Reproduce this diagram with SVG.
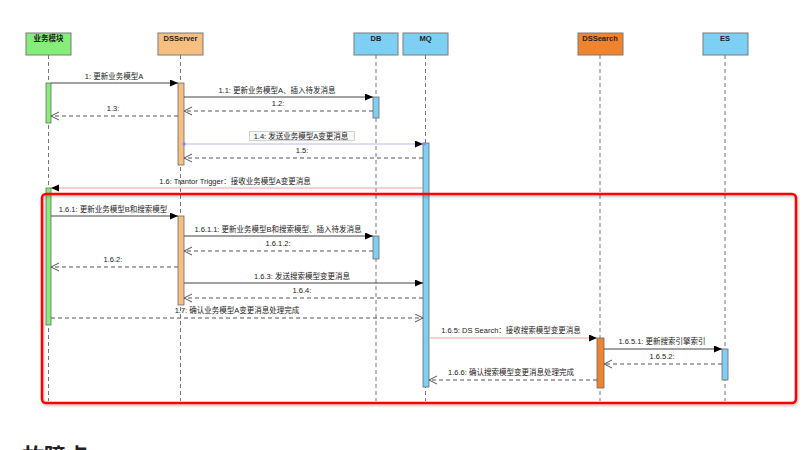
<svg xmlns="http://www.w3.org/2000/svg" width="811" height="450" viewBox="0 0 811 450">
<style>
.hd{stroke:#7a7a7a;stroke-width:1}
.ht{font-family:"Liberation Sans","Noto Sans CJK SC",sans-serif;font-size:7.5px;font-weight:bold;fill:#222;text-anchor:middle}
.ll{stroke:#777;stroke-width:1;stroke-dasharray:4,3;fill:none}
.act{stroke:#6a6a6a;stroke-width:0.8}
.g{fill:#84ee78}.t{fill:#f5c07f}.b{fill:#7dcff3}.o{fill:#f0832e}
.msg{stroke:#444;stroke-width:1;fill:none;marker-end:url(#fill)}
.ret{stroke:#555;stroke-width:1;stroke-dasharray:4,3;fill:none;marker-end:url(#open)}
.lbl{font-family:"Liberation Sans","Noto Sans CJK SC",sans-serif;font-size:7.5px;fill:#222;text-anchor:middle}
</style>
<defs>
<marker id="fill" markerUnits="userSpaceOnUse" markerWidth="9" markerHeight="8" refX="8" refY="3.5" orient="auto"><path d="M0,0 L8,3.5 L0,7 z" fill="#000"/></marker>
<marker id="open" markerUnits="userSpaceOnUse" markerWidth="10" markerHeight="10" refX="9" refY="4.5" orient="auto"><path d="M1,0.5 L9,4.5 L1,8.5" fill="none" stroke="#555" stroke-width="1"/></marker>
<filter id="sh" x="-5%" y="-5%" width="110%" height="110%"><feDropShadow dx="1" dy="1.5" stdDeviation="1.2" flood-color="#000" flood-opacity="0.25"/></filter>
</defs>
<rect width="811" height="450" fill="#fff"/>

<g id="biz">
<rect class="hd g" x="26" y="33" width="45" height="22"/>
<text class="ht" x="48.5" y="41">业务模块</text>
<line class="ll" x1="48.5" y1="55" x2="48.5" y2="401"/>
<rect class="act g" x="46" y="83" width="5" height="40"/>
<rect class="act g" x="46" y="188" width="5" height="137"/>
</g>
<g id="dsserver">
<rect class="hd t" x="158" y="33" width="45" height="22"/>
<text class="ht" x="180.5" y="41">DSServer</text>
<line class="ll" x1="180.5" y1="55" x2="180.5" y2="401"/>
<rect class="act t" x="178" y="83" width="6" height="82"/>
<rect class="act t" x="178" y="216" width="6" height="89"/>
</g>
<g id="db">
<rect class="hd b" x="354" y="33" width="44" height="22"/>
<text class="ht" x="376" y="41">DB</text>
<line class="ll" x1="376" y1="55" x2="376" y2="401"/>
<rect class="act b" x="373" y="97" width="6" height="21"/>
<rect class="act b" x="373" y="236" width="6" height="23"/>
</g>
<g id="mq">
<rect class="hd b" x="403" y="33" width="45" height="22"/>
<text class="ht" x="425.5" y="41">MQ</text>
<line class="ll" x1="425.5" y1="55" x2="425.5" y2="401"/>
<rect class="act b" x="423" y="143" width="6" height="244"/>
</g>
<g id="dssearch">
<rect class="hd o" x="578" y="33" width="45" height="22"/>
<text class="ht" x="600" y="41">DSSearch</text>
<line class="ll" x1="600" y1="55" x2="600" y2="401"/>
<rect class="act o" x="597" y="338" width="7" height="50"/>
</g>
<g id="es">
<rect class="hd b" x="703" y="33" width="45" height="22"/>
<text class="ht" x="725" y="41">ES</text>
<line class="ll" x1="725" y1="55" x2="725" y2="401"/>
<rect class="act b" x="722" y="349" width="6" height="31"/>
</g>

<g id="connectors">
<line class="msg" x1="51" y1="83" x2="178" y2="83"/>
<text class="lbl" x="114" y="79">1: 更新业务模型A</text>
<line class="msg" x1="184" y1="97" x2="373" y2="97"/>
<text class="lbl" x="277" y="93">1.1: 更新业务模型A、插入待发消息</text>
<line class="ret" x1="373" y1="111" x2="184" y2="111"/>
<text class="lbl" x="278" y="106">1.2:</text>
<line class="ret" x1="178" y1="116" x2="51" y2="116"/>
<text class="lbl" x="113" y="111">1.3:</text>
<rect x="249.5" y="131.5" width="105" height="9" fill="#f7f7f7" stroke="#c8c8c8" stroke-width="0.8"/>
<text class="lbl" x="301" y="138.8">1.4: 发送业务模型A变更消息</text>
<line x1="184" y1="144" x2="423" y2="144" stroke="#b9b9f2" stroke-width="1.2" marker-end="url(#fill)"/>
<circle cx="184" cy="144" r="1.8" fill="#8c8cf0"/>
<circle cx="424" cy="144" r="1.8" fill="#8c8cf0"/>
<line class="ret" x1="423" y1="158" x2="184" y2="158"/>
<text class="lbl" x="302" y="153">1.5:</text>
<line x1="423" y1="188" x2="51" y2="188" stroke="#f2a0a0" stroke-width="1" marker-end="url(#fill)"/>
<text class="lbl" x="235" y="183.5">1.6: Trantor Trigger：接收业务模型A变更消息</text>
<line class="msg" x1="51" y1="216" x2="178" y2="216"/>
<text class="lbl" x="113" y="211.5">1.6.1: 更新业务模型B和搜索模型</text>
<line class="msg" x1="184" y1="236" x2="373" y2="236"/>
<text class="lbl" x="278" y="231.5">1.6.1.1: 更新业务模型B和搜索模型、插入待发消息</text>
<line class="ret" x1="373" y1="251" x2="184" y2="251"/>
<text class="lbl" x="278" y="246">1.6.1.2:</text>
<line class="ret" x1="178" y1="267" x2="51" y2="267"/>
<text class="lbl" x="113" y="262">1.6.2:</text>
<line class="msg" x1="184" y1="283" x2="423" y2="283"/>
<text class="lbl" x="302" y="278.5">1.6.3: 发送搜索模型变更消息</text>
<line class="ret" x1="423" y1="298" x2="184" y2="298"/>
<text class="lbl" x="302" y="293">1.6.4:</text>
<line class="ret" x1="51" y1="318" x2="423" y2="318"/>
<text class="lbl" x="237" y="312.5">1.7: 确认业务模型A变更消息处理完成</text>
<line x1="429" y1="338" x2="597" y2="338" stroke="#f2a0a0" stroke-width="1" marker-end="url(#fill)"/>
<text class="lbl" x="511" y="332.5">1.6.5: DS Search：接收搜索模型变更消息</text>
<line class="msg" x1="604" y1="349" x2="722" y2="349"/>
<text class="lbl" x="662" y="344">1.6.5.1: 更新搜索引擎索引</text>
<line class="ret" x1="722" y1="364" x2="604" y2="364"/>
<text class="lbl" x="662" y="359">1.6.5.2:</text>
<line class="ret" x1="597" y1="380" x2="429" y2="380"/>
<text class="lbl" x="511" y="375">1.6.6: 确认搜索模型变更消息处理完成</text>
</g>

<rect x="42" y="194" width="754" height="209" rx="4" fill="none" stroke="#ff0000" stroke-width="2.5" filter="url(#sh)"/>
<text x="22" y="464" font-family="'Noto Sans CJK SC',sans-serif" font-size="22" font-weight="bold" fill="#222">故障点</text>
</svg>
